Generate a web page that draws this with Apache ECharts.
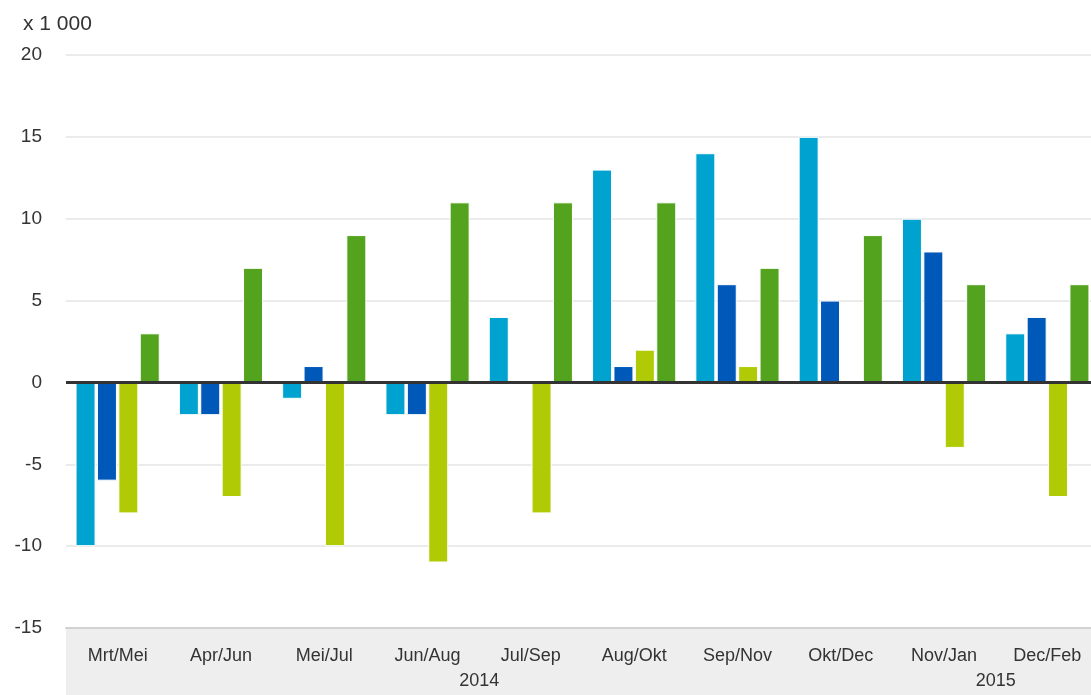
<!DOCTYPE html>
<html>
<head>
<meta charset="utf-8">
<script src="https://cdn.jsdelivr.net/npm/echarts@6/dist/echarts.min.js"></script>
<style>
html,body{margin:0;padding:0;background:#fff;}
#c{width:1091px;height:695px;}
</style>
</head>
<body>
<div id="c"></div>
<script>
const categories = ['Mrt/Mei','Apr/Jun','Mei/Jul','Jun/Aug','Jul/Sep','Aug/Okt','Sep/Nov','Okt/Dec','Nov/Jan','Dec/Feb'];
const series1 = [-10, -2, -1, -2, 4, 13, 14, 15, 10, 3];
const series2 = [-6, -2, 1, -2, 0, 1, 6, 5, 8, 4];
const series3 = [-8, -7, -10, -11, -8, 2, 1, 0, -4, -7];
const series4 = [3, 7, 9, 11, 11, 11, 7, 9, 6, 6];
const yearLabels = ['2014', '2015'];
const yearBoundaryIndex = [4, 9]; // year label centred at the boundary before this category
const yTicks = { min: -15, max: 20, interval: 5 };
const unitLabel = 'x 1 000';

const colors = ['#00a2cf', '#0058b9', '#b0cb05', '#54a31e'];

const yearAxisData = new Array(categories.length + 1).fill('');
yearBoundaryIndex.forEach((b, i) => { yearAxisData[b] = yearLabels[i]; });

const chart = echarts.init(document.getElementById('c'), null, {renderer: 'canvas'});
const FONT = 'Liberation Sans, Arial, sans-serif';

function barSeries(data, idx) {
  const s = {
    type: 'bar',
    data: data,
    barWidth: 20,
    barGap: '7%',
    itemStyle: { color: colors[idx], borderColor: '#ffffff', borderWidth: 1 },
    emphasis: { disabled: true },
    animation: false
  };
  if (idx === 3) {
    s.markLine = {
      silent: true,
      symbol: 'none',
      label: { show: false },
      lineStyle: { color: '#333333', width: 3, type: 'solid' },
      data: [{ yAxis: 0 }],
      animation: false
    };
  }
  return s;
}

chart.setOption({
  animation: false,
  backgroundColor: '#ffffff',
  title: {
    text: unitLabel,
    left: 18,
    top: 9,
    textStyle: { fontFamily: FONT, fontSize: 21, fontWeight: 'normal', color: '#333333' }
  },
  grid: { left: 66, top: 55, right: -8, height: 573, containLabel: false, outerBoundsMode: 'none' },
  graphic: [{
    type: 'rect',
    z: -10,
    silent: true,
    shape: { x: 66, y: 628, width: 1100, height: 80 },
    style: { fill: '#eeeeee' }
  }],
  xAxis: [{
    type: 'category',
    data: categories,
    position: 'bottom',
    axisLine: { show: true, onZero: false, lineStyle: { color: '#d2d2d2', width: 2 } },
    axisTick: { show: false },
    axisLabel: { interval: 0, margin: 19, fontFamily: FONT, fontSize: 18, color: '#333333' },
    splitLine: { show: false }
  }, {
    type: 'category',
    data: yearAxisData,
    boundaryGap: false,
    position: 'bottom',
    offset: 25,
    axisLine: { show: false },
    axisTick: { show: false },
    axisLabel: { interval: 0, margin: 19, fontFamily: FONT, fontSize: 18, color: '#333333' },
    splitLine: { show: false }
  }],
  yAxis: {
    type: 'value',
    min: yTicks.min,
    max: yTicks.max,
    interval: yTicks.interval,
    axisLine: { show: false },
    axisTick: { show: false },
    axisLabel: { margin: 24, fontFamily: FONT, fontSize: 19, color: '#333333' },
    splitLine: { show: true, lineStyle: { color: '#e4e4e4', width: 1.5 } }
  },
  series: [series1, series2, series3, series4].map(barSeries)
});
</script>
</body>
</html>
